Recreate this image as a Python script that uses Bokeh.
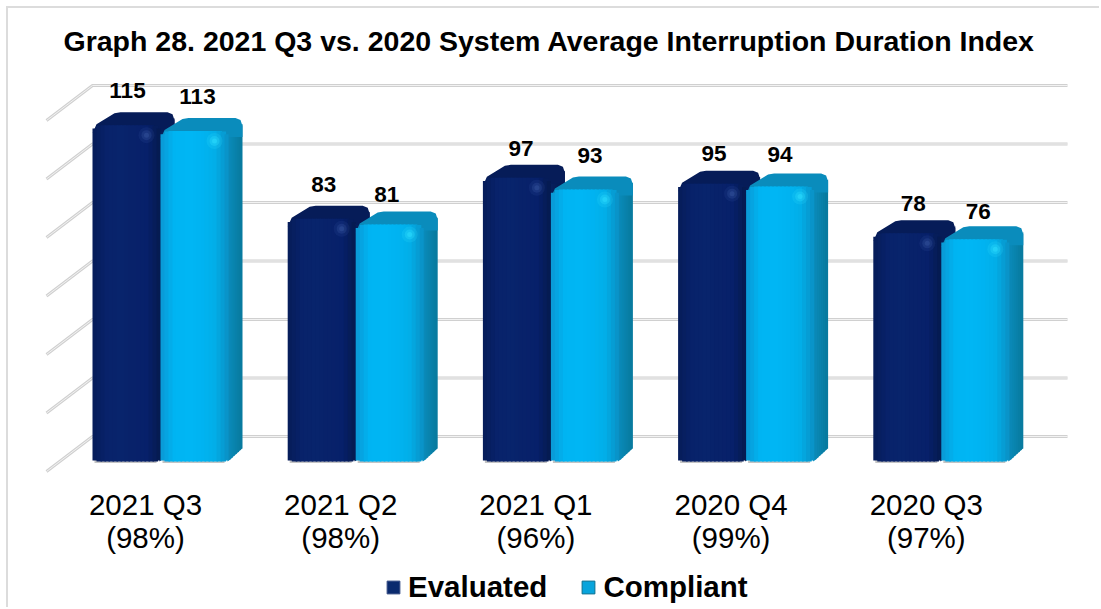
from bokeh.plotting import figure
from bokeh.models import FixedTicker, Range1d, Legend, LegendItem
from bokeh.embed import file_html
from bokeh.resources import INLINE
from bokeh.core.properties import value

TITLE = "Graph 28. 2021 Q3 vs. 2020 System Average Interruption Duration Index"
categories = ["2021 Q3\n(98%)", "2021 Q2\n(98%)", "2021 Q1\n(96%)", "2020 Q4\n(99%)", "2020 Q3\n(97%)"]
evaluated = [115, 83, 97, 95, 78]
compliant = [113, 81, 93, 94, 76]
grid_values = [0, 20, 40, 60, 80, 100, 120]

# layout (pixels)
W, H = 1093, 601
ORIGIN_X, ORIGIN_Y = 8, 8          # figure's top-left in the window
FRAME_TOP, FRAME_BOTTOM = 62, 609  # frame edges, window pixels
AXIS_Y = 476                       # window y of the category axis
BASE_Y = 461                       # window y of value 0 on the bars' front
PX_Y = 2.925                       # pixels per unit of value
PX_X = 195.2                       # pixels per category
FIRST_X = 145                      # window x of first category
BAR_W, DEPTH_X, DEPTH_Y = 68, 14, 13
GRID_LEFT, GRID_BACK, GRID_RIGHT, GRID_DY, WALL_DY = 46, 92, 1067, 35, 25
# hand placement of the value labels, pixels (right, up)
EV_NUDGE = [(-1, 1), (0, 0), (2, -5), (0, -4), (4, -4)]
CO_NUDGE = [(0, 0), (-6, -4), (2, 0), (-3, -2), (0, -6)]

def ux(px):  # horizontal pixels to category units
    return px / PX_X
def vy(px):  # vertical pixels to value units
    return px / PX_Y
def cat_x(win_x):
    return (win_x - FIRST_X) / PX_X

p = figure(width=W, height=H, output_backend="svg", toolbar_location=None,
           frame_width=W, frame_height=FRAME_BOTTOM - FRAME_TOP,
           x_range=Range1d(cat_x(ORIGIN_X), cat_x(ORIGIN_X + W)),
           y_range=Range1d(vy(BASE_Y - FRAME_BOTTOM), vy(BASE_Y - FRAME_TOP)),
           min_border_left=0, min_border_right=0, min_border_top=FRAME_TOP - ORIGIN_Y,
           min_border_bottom=0, outline_line_color=None,
           background_fill_color="white", border_fill_color="white")
p.styles = {"margin-left": "8px", "margin-top": "8px", "box-shadow": "-2px -2px 0 0 #dcdcdc"}
p.grid.visible = False
p.yaxis.visible = False

p.title.text = TITLE
p.title.align = "left"
p.title.offset = 55
p.title.text_font = "Liberation Sans"
p.title.text_font_style = "bold"
p.title.text_font_size = "28.5px"
p.title.text_color = "#000000"
p.title.standoff = 12

ax = p.xaxis[0]
ax.fixed_location = vy(BASE_Y - AXIS_Y)
ax.ticker = FixedTicker(ticks=list(range(len(categories))))
ax.major_label_overrides = {i: c for i, c in enumerate(categories)}
ax.axis_line_color = None
ax.major_tick_line_color = None
ax.minor_tick_line_color = None
ax.major_label_text_font = "Liberation Sans"
ax.major_label_text_font_size = "29.5px"
ax.major_label_text_line_height = 1.0
ax.major_label_text_color = "#000000"
ax.major_label_standoff = 5

# gridlines: floor edge + back wall
xs, ys = [], []
for g in grid_values:
    wall = g + vy(WALL_DY)
    xs.append([cat_x(GRID_LEFT), cat_x(GRID_BACK), cat_x(GRID_RIGHT)])
    ys.append([wall - vy(GRID_DY), wall, wall])
p.multi_line(xs, ys, line_color="#d0d0d0", line_width=3)
p.multi_line(xs, ys, line_color="#f2f2f2", line_width=1)

def corner(t, r):
    """Inset of a rounded corner at distance t from the edge."""
    if t >= r:
        return 0.0
    return r - (r * r - (r - t) ** 2) ** 0.5

def shade(c1, c2, t):
    a = [int(c1[i:i + 2], 16) for i in (1, 3, 5)]
    b = [int(c2[i:i + 2], 16) for i in (1, 3, 5)]
    return "#%02x%02x%02x" % tuple(round(a[i] + (b[i] - a[i]) * t) for i in range(3))

def bar(cx, val, offset, front_stops, side, side_dark, top, spot, spot_alpha):
    left = cx + ux(offset)
    wid = ux(BAR_W)
    dx, dy = ux(DEPTH_X), vy(DEPTH_Y)
    r = 9
    # contact shadow under the front face
    p.quad(left=left + ux(2), right=left + wid - ux(4), bottom=-vy(1.5), top=vy(2),
           fill_color="#c4c4c4", line_color=None)
    # right side: slanted strips from the front edge to the back edge
    n_side = 7
    for i in range(n_side):
        t0, t1 = i / n_side, min((i + 1.3) / n_side, 1.0)
        x0, x1 = left + wid + dx * t0 - ux(1), left + wid + dx * t1
        p.patch([x0, x1, x1, x0],
                [dy * t0, dy * t1, val + dy * t1 - vy(6), val + dy * t0 - vy(6)],
                fill_color=shade(side, side_dark, (i + 0.5) / n_side), line_color=None)
    # top face, rounded
    tx = [left, left + ux(4), left + ux(22), left + ux(28),
          left + wid + dx - ux(7), left + wid + dx - ux(2), left + wid + dx,
          left + wid + dx, left + wid, left + ux(4)]
    ty = [val - vy(8), val + vy(1), val + dy - vy(1), val + dy,
          val + dy, val + dy - vy(2), val + dy - vy(8),
          val - vy(6), val - vy(6), val - vy(4)]
    p.patch(tx, ty, fill_color=top, line_color=None)
    # front face: a horizontal ramp of thin strips with rounded corners
    n = 17
    for i in range(n):
        s = (i + 0.5) / n
        inset_px = corner(min(s, 1 - s) * BAR_W, r)
        base_px = corner(min(s, 1 - s) * BAR_W, 5)
        idx = s * (len(front_stops) - 1)
        k = min(int(idx), len(front_stops) - 2)
        col = shade(front_stops[k], front_stops[k + 1], idx - k)
        p.quad(left=left + wid * i / n, right=left + wid * min(i + 1.4, n) / n,
               bottom=vy(base_px), top=val - vy(inset_px), fill_color=col, line_color=None)
    # soft highlight near the top right corner of the front face
    for size, alpha in ((16, 0.2), (10, 0.35), (5, 0.5)):
        p.scatter([left + ux(54)], [val - vy(10)], size=size, fill_color=spot,
                  fill_alpha=spot_alpha * alpha, line_color=None)

EV = dict(front_stops=["#061c58", "#08226a", "#08246c", "#08226a", "#07206a", "#051a4e"],
          side="#08205e", side_dark="#051a50", top="#061c58", spot="#3a5aa0", spot_alpha=0.8)
CO = dict(front_stops=["#0a98d4", "#00b4f2", "#00b6f4", "#00b4f2", "#02aee8", "#0a90c4"],
          side="#0a8cbc", side_dark="#087a9e", top="#0a8cbc", spot="#30e0ff", spot_alpha=0.9)

for i, e in enumerate(evaluated):
    bar(i, e, -53, **EV)
for i, c in enumerate(compliant):
    bar(i, c, 15, **CO)

# data labels
lab_x, lab_y, lab_t = [], [], []
for i, (e, c) in enumerate(zip(evaluated, compliant)):
    lab_x += [i + ux(-53 + BAR_W / 2 + 2 + EV_NUDGE[i][0]), i + ux(15 + BAR_W / 2 + 3 + CO_NUDGE[i][0])]
    lab_y += [e + vy(DEPTH_Y + 21 + EV_NUDGE[i][1]), c + vy(DEPTH_Y + 21 + CO_NUDGE[i][1])]
    lab_t += [str(e), str(c)]
p.text(lab_x, lab_y, text=lab_t, text_font=value("Liberation Sans"), text_font_style="bold",
       text_font_size="22.5px", text_align="center", text_baseline="middle", text_color="#000000")

# legend
r_e = p.quad(left=[0], right=[0], bottom=[0], top=[0], fill_color="#0a2a6e", line_color="#3a4f86", line_width=1)
r_c = p.quad(left=[0], right=[0], bottom=[0], top=[0], fill_color="#08a4dc", line_color="#0b6f8f", line_width=1)
legend = Legend(items=[LegendItem(label="Evaluated", renderers=[r_e]),
                       LegendItem(label="Compliant", renderers=[r_c])],
                orientation="horizontal", location=(377, 5),
                border_line_color=None, background_fill_alpha=0,
                label_text_font="Liberation Sans", label_text_font_style="bold",
                label_text_font_size="29.5px", label_text_color="#000000",
                glyph_width=16, glyph_height=16, label_standoff=7, spacing=33,
                padding=0, margin=0)
p.add_layout(legend, "center")

open("out.html", "w").write(file_html(p, INLINE))
